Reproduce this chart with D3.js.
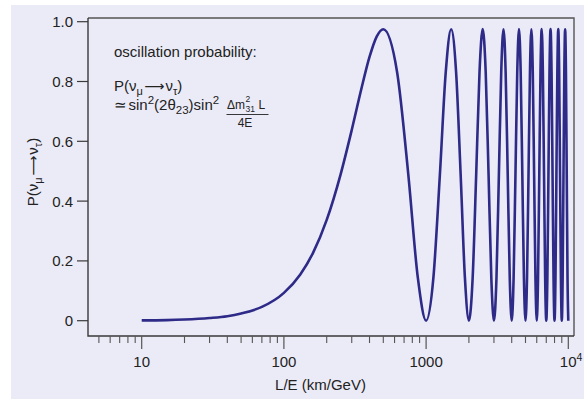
<!DOCTYPE html>
<html><head><meta charset="utf-8">
<script src="https://cdn.jsdelivr.net/npm/d3@7"></script>
<style>
html,body{margin:0;padding:0;background:#fff;}
text{font-family:"Liberation Sans",Arial,sans-serif;fill:#222;}
.arr{font-family:"DejaVu Sans",sans-serif;}
</style></head>
<body>
<svg id="c" width="584" height="399"></svg>
<script>
// L/E (km/GeV) values and oscillation probability
const lOverE = [10,15,20,30,40,50,70,100,130,160,200,250,300,350,400,450,
  500,625,750,875,1000,1125,1250,1375,
  1500,1625,1750,1875,2000,2125,2250,2375,
  2500,2625,2750,2875,3000,3125,3250,3375,
  3500,3625,3750,3875,4000,4125,4250,4375,
  4500,4625,4750,4875,5000,5125,5250,5375,
  5500,5625,5750,5875,6000,6125,6250,6375,
  6500,6625,6750,6875,7000,7125,7250,7375,
  7500,7625,7750,7875,8000,8125,8250,8375,
  8500,8625,8750,8875,9000,9125,9250,9375,
  9500,9625,9750,9875,10000];
const prob = [0.001,0.002,0.004,0.009,0.015,0.024,0.046,0.093,0.154,0.226,0.337,0.488,0.638,0.774,0.882,0.951,
  0.975,0.832,0.488,0.143,0,0.143,0.488,0.832,
  0.975,0.832,0.488,0.143,0,0.143,0.488,0.832,
  0.975,0.832,0.488,0.143,0,0.143,0.488,0.832,
  0.975,0.832,0.488,0.143,0,0.143,0.488,0.832,
  0.975,0.832,0.488,0.143,0,0.143,0.488,0.832,
  0.975,0.832,0.488,0.143,0,0.143,0.488,0.832,
  0.975,0.832,0.488,0.143,0,0.143,0.488,0.832,
  0.975,0.832,0.488,0.143,0,0.143,0.488,0.832,
  0.975,0.832,0.488,0.143,0,0.143,0.488,0.832,
  0.975,0.832,0.488,0.143,0];
const yTicks = [0,0.2,0.4,0.6,0.8,1.0];
const yTickLabels = ["0","0.2","0.4","0.6","0.8","1.0"];
const xMajor = [10,100,1000,10000];
const xMajorLabels = ["10","100","1000","10"];
const xMinor = [5,6,7,8,9,20,30,40,50,60,70,80,90,200,300,400,500,600,700,800,900,
  2000,3000,4000,5000,6000,7000,8000,9000];

const svg = d3.select("#c");
svg.append("rect").attr("x",11).attr("y",5).attr("width",573).attr("height",394).attr("fill","#ebebf7");

const L = 88, R = 574, T = 18, B = 336;
const x = d3.scaleLog().domain([10,10000]).range([141.7,568.3]);
const y = d3.scaleLinear().domain([0,1]).range([320.7,21.7]);

const axCol = "#3a3a3a";
// frame
svg.append("path").attr("d",`M${L},${T}H${R}V${B}`).attr("fill","none").attr("stroke","#555").attr("stroke-width",1.4);
svg.append("path").attr("d",`M${L},${T}V${B}H${R}`).attr("fill","none").attr("stroke",axCol).attr("stroke-width",1.4);

// y ticks
const yg = svg.append("g");
yTicks.forEach((v,i)=>{
  yg.append("line").attr("x1",L-11).attr("x2",L).attr("y1",y(v)).attr("y2",y(v)).attr("stroke",axCol).attr("stroke-width",1.2);
  yg.append("text").attr("x",L-15).attr("y",y(v)+5.5).attr("text-anchor","end").attr("font-size",15).text(yTickLabels[i]);
});
// x ticks
const xg = svg.append("g");
xMinor.forEach(v=>{
  xg.append("line").attr("x1",x(v)).attr("x2",x(v)).attr("y1",B).attr("y2",B+7).attr("stroke","#555").attr("stroke-width",1.1);
});
xMajor.forEach((v,i)=>{
  xg.append("line").attr("x1",x(v)).attr("x2",x(v)).attr("y1",B).attr("y2",B+13).attr("stroke","#555").attr("stroke-width",1.2);
  const t = xg.append("text").attr("x",x(v)).attr("y",367).attr("text-anchor","middle").attr("font-size",15);
  if (v===10000) {
    t.attr("text-anchor","start").attr("x",x(v)-8.5);
    t.append("tspan").text(xMajorLabels[i]);
    t.append("tspan").attr("dy",-6).attr("font-size",10.5).text("4");
  } else t.text(xMajorLabels[i]);
});

// axis titles
svg.append("text").attr("x",320.5).attr("y",390).attr("text-anchor","middle").attr("font-size",15).text("L/E (km/GeV)");
function nuLabel(t){
  t.append("tspan").text("P(ν");
  t.append("tspan").attr("dy",4).attr("font-size",11).text("μ");
  t.append("tspan").attr("dy",-4).attr("dx",1.5).attr("class","arr").attr("font-size",14).text("⟶");
  t.append("tspan").attr("dx",1).text("ν");
  t.append("tspan").attr("dy",4).attr("font-size",11).text("τ");
  t.append("tspan").attr("dy",-4).text(")");
}
nuLabel(svg.append("text").attr("transform","translate(38,172) rotate(-90)").attr("text-anchor","middle").attr("font-size",15));

// annotation
const ax0 = 114;
svg.append("text").attr("x",ax0).attr("y",57).attr("font-size",15).text("oscillation probability:");
nuLabel(svg.append("text").attr("x",ax0).attr("y",91).attr("font-size",15));
const l3 = svg.append("text").attr("x",ax0).attr("y",110).attr("font-size",15);
l3.append("tspan").text("≃");
l3.append("tspan").attr("dx",1.5).text("sin");
l3.append("tspan").attr("dy",-6).attr("font-size",11.5).text("2");
l3.append("tspan").attr("dy",6).text("(2θ");
l3.append("tspan").attr("dy",4).attr("font-size",11.5).text("23");
l3.append("tspan").attr("dy",-4).text(")sin");
l3.append("tspan").attr("dy",-6).attr("font-size",11.5).text("2");
// fraction
svg.append("text").attr("x",227).attr("y",109).attr("font-size",12).text("Δm");
svg.append("text").attr("x",245.5).attr("y",101.5).attr("font-size",8.5).text("2");
svg.append("text").attr("x",245.5).attr("y",112).attr("font-size",8.5).text("31");
svg.append("text").attr("x",258.5).attr("y",109).attr("font-size",12).text("L");
svg.append("line").attr("x1",226.5).attr("x2",268.5).attr("y1",114.5).attr("y2",114.5).attr("stroke","#222").attr("stroke-width",0.9);
svg.append("text").attr("x",245).attr("y",127).attr("text-anchor","middle").attr("font-size",12).text("4E");

// curve
const pts = lOverE.map((v,i)=>[v,prob[i]]);
const line = d3.line().x(d=>x(d[0])).y(d=>y(d[1])).curve(d3.curveMonotoneX);
svg.append("path").datum(pts).attr("d",line).attr("fill","none").attr("stroke","#2e2a88").attr("stroke-width",2.6).attr("stroke-linejoin","round");
</script>
</body></html>
